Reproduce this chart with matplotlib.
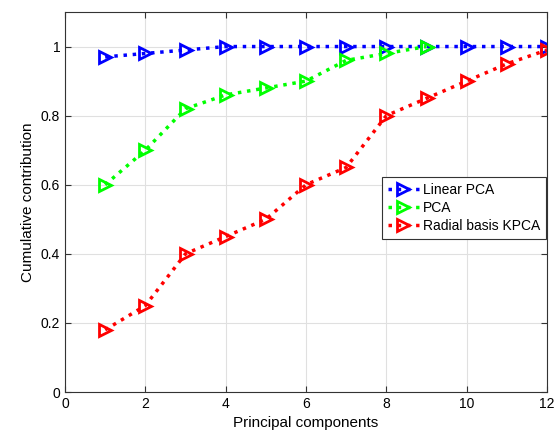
import matplotlib
matplotlib.use("Agg")
import matplotlib.pyplot as plt
import numpy as np

plt.rcParams['font.family'] = ['Liberation Sans', 'DejaVu Sans']

# data
x_all = [1, 2, 3, 4, 5, 6, 7, 8, 9, 10, 11, 12]
linear_pca = [0.97, 0.98, 0.99, 1.0, 1.0, 1.0, 1.0, 1.0, 1.0, 1.0, 1.0, 1.0]
x_pca = [1, 2, 3, 4, 5, 6, 7, 8, 9]
pca = [0.60, 0.70, 0.82, 0.86, 0.88, 0.90, 0.96, 0.98, 1.0]
kpca = [0.18, 0.25, 0.40, 0.45, 0.50, 0.60, 0.65, 0.80, 0.85, 0.90, 0.95, 0.99]

fig = plt.figure(figsize=(5.59, 4.40), dpi=100)
ax = fig.add_axes([65/559, 48/440, 482/559, 380/440])

style = dict(linestyle=':', linewidth=2.5, marker='>', markersize=8.5,
             markerfacecolor='none', markeredgewidth=2)
ax.plot(x_all, linear_pca, color='#0000ff', label='Linear PCA', **style)
ax.plot(x_pca, pca, color='#00ff00', label='PCA', **style)
ax.plot(x_all, kpca, color='#ff0000', label='Radial basis KPCA', **style)

ax.set_xlim(0, 12)
ax.set_ylim(0, 1.1)
ax.set_xticks(np.arange(0, 13, 2))
ax.set_yticks([0, 0.2, 0.4, 0.6, 0.8, 1.0])
ax.set_yticklabels(['0', '0.2', '0.4', '0.6', '0.8', '1'])
ax.grid(True, color='#e0e0e0', linewidth=0.8)
ax.set_axisbelow(True)
ax.tick_params(direction='in', length=4, labelsize=10, top=True, right=True,
               labeltop=False, labelright=False, color='#333333')
for s in ax.spines.values():
    s.set_color('#333333')
    s.set_linewidth(0.8)

ax.set_xlabel('Principal components', fontsize=11)
ax.set_ylabel('Cumulative contribution', fontsize=11)

leg = ax.legend(loc='upper right', bbox_to_anchor=(0.997, 0.565), fontsize=10,
                fancybox=False, framealpha=1, edgecolor='#333333',
                handlelength=2.2, borderpad=0.4, labelspacing=0.3,
                handletextpad=0.3, borderaxespad=0.0)
leg.get_frame().set_linewidth(0.8)

fig.savefig('out.png', dpi=100)
